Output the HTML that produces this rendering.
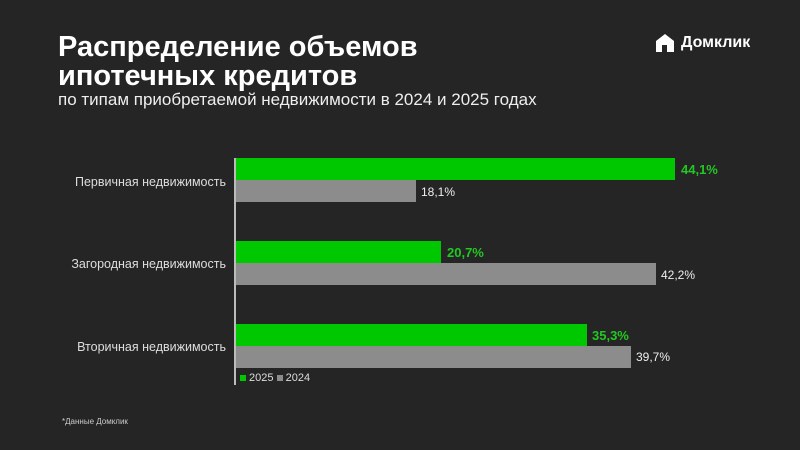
<!DOCTYPE html>
<html><head><meta charset="utf-8"><style>
body{margin:0;width:800px;height:450px;background:#252525;font-family:"Liberation Sans",sans-serif;position:relative;overflow:hidden;color:#fff}
.a{position:absolute;white-space:nowrap}
.t{font-weight:bold;font-size:29px;line-height:29px;left:58px}
.bar{position:absolute;left:236px;height:22px}
.g{background:#00c800}.y{background:#8c8c8c}
.lg{color:#22c822;font-weight:bold;font-size:13px}
.lw{color:#eee;font-size:12px}
.cat{font-size:12.5px;color:#ddd;right:574px;text-align:right}
</style></head><body>
<div class="a t" style="top:33px">Распределение объемов</div>
<div class="a t" style="top:62px">ипотечных кредитов</div>
<div class="a" style="left:58px;top:90px;font-size:17px;color:#eee">по типам приобретаемой недвижимости в 2024 и 2025 годах</div>
<svg class="a" style="left:653px;top:32px" width="24" height="24" viewBox="0 0 24 24"><path d="M3 9 L12 2 L21 9 L21 20 L14 20 L14 13 L9 13 L9 20 L3 20 Z" fill="#fff"/><path d="M9 13 L14 13 L14 20 L9 16Z" fill="#252525"/></svg>
<div class="a" style="left:681px;top:34px;font-size:16px;font-weight:bold">Домклик</div>
<div class="a" style="left:234px;top:158px;width:2px;height:227px;background:#bbb"></div>
<div class="bar g" style="top:158px;width:439px"></div>
<div class="bar y" style="top:180px;width:180px"></div>
<div class="bar g" style="top:241px;width:205px"></div>
<div class="bar y" style="top:263px;width:420px"></div>
<div class="bar g" style="top:324px;width:351px"></div>
<div class="bar y" style="top:346px;width:395px"></div>
<div class="a lg" style="left:681px;top:162px">44,1%</div>
<div class="a lw" style="left:421px;top:185px">18,1%</div>
<div class="a lg" style="left:447px;top:245px">20,7%</div>
<div class="a lw" style="left:661px;top:268px">42,2%</div>
<div class="a lg" style="left:592px;top:328px">35,3%</div>
<div class="a lw" style="left:636px;top:350px">39,7%</div>
<div class="a cat" style="top:175px">Первичная недвижимость</div>
<div class="a cat" style="top:257px">Загородная недвижимость</div>
<div class="a cat" style="top:340px">Вторичная недвижимость</div>
<div class="a" style="left:240px;top:372px;font-size:11px;color:#ddd"><span style="display:inline-block;width:6px;height:6px;background:#00c800"></span> 2025 <span style="display:inline-block;width:6px;height:6px;background:#8c8c8c"></span> 2024</div>
<div class="a" style="left:62px;top:417px;font-size:8px;color:#ccc">*Данные Домклик</div>
</body></html>
